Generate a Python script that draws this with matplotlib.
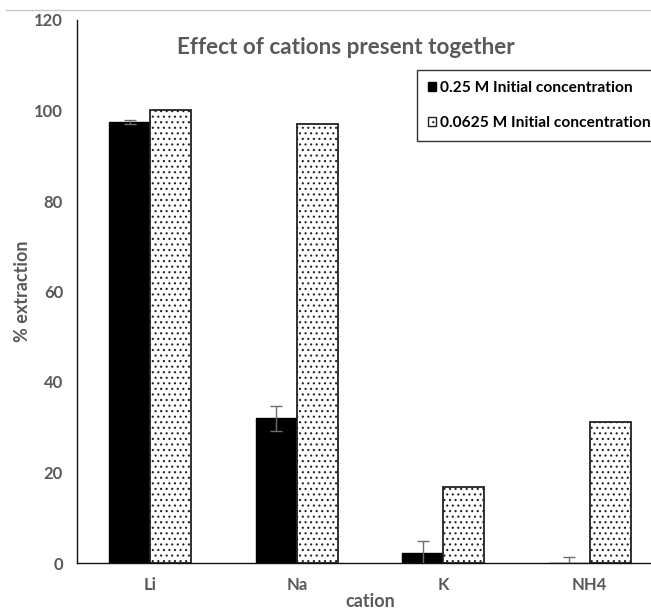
import matplotlib.pyplot as plt
import numpy as np
from matplotlib.lines import Line2D

plt.rcParams['font.family'] = ['Lato', 'DejaVu Sans']
plt.rcParams['hatch.linewidth'] = 0.8

# data
cations = ["Li", "Na", "K", "NH4"]
conc_025 = [97.5, 32.0, 2.1, 0.0]
conc_025_err = [0.4, 2.8, 2.8, 1.4]
conc_00625 = [100.0, 97.0, 16.9, 31.2]
labels = ["0.25 M Initial concentration", "0.0625 M Initial concentration"]

GREY = "#595959"

fig = plt.figure(figsize=(6.51, 6.09), dpi=100)
ax = fig.add_axes([77 / 651, 46 / 609, 586 / 651, 543 / 609])

x = np.arange(len(cations))
w = 0.28

ax.bar(x - w / 2, conc_025, w, color="black", edgecolor="black", linewidth=1.0, zorder=2)
ax.errorbar(x - w / 2, conc_025, yerr=conc_025_err, fmt="none", ecolor="#6e6e6e",
            elinewidth=1.0, capsize=4, capthick=1.0, zorder=3)
ax.bar(x + w / 2, conc_00625, w, color="white", edgecolor="#222222", hatch="...",
       linewidth=1.3, zorder=2)

ax.set_xlim(-0.5, 3.5)
ax.set_ylim(0, 120)
ax.set_yticks(np.arange(0, 121, 20))
ax.set_xticks(x)
ax.set_xticklabels(cations)
ax.tick_params(axis="both", length=0, labelsize=12, colors=GREY, pad=10)
for lab in ax.get_xticklabels() + ax.get_yticklabels():
    lab.set_fontweight("bold")

for s in ["top", "right"]:
    ax.spines[s].set_visible(False)
ax.spines["left"].set_color("#111111")
ax.spines["bottom"].set_color("#111111")
ax.spines["left"].set_linewidth(1.0)
ax.spines["bottom"].set_linewidth(1.0)

ax.set_ylabel("% extraction", fontsize=13, fontweight="bold", color=GREY)
ax.yaxis.set_label_coords(-(77 - 31) / 586, 0.5)
ax.set_xlabel("cation", fontsize=13, fontweight="bold", color=GREY)
ax.xaxis.set_label_coords((370 - 77) / 586, -0.055)

fig.text(346 / 651, 1 - 47 / 609, "Effect of cations present together", ha="center", va="center",
         fontsize=16.2, fontweight="bold", color=GREY)

legend_elements = [
    plt.Rectangle((0, 0), 1, 1, facecolor="black", edgecolor="black"),
    plt.Rectangle((0, 0), 1, 1, facecolor="white", edgecolor="#222222", hatch="..."),
]
leg = ax.legend(legend_elements, labels, loc="upper left", bbox_to_anchor=((417 - 77) / 586, (563 - 70) / 543),
                frameon=True, fancybox=False, edgecolor="black", handlelength=0.55, handleheight=0.55,
                handletextpad=0.25, labelspacing=1.35, borderpad=0.7, borderaxespad=0,
                prop={"weight": "bold", "size": 11.2})
leg.get_frame().set_linewidth(1.0)

# thin grey chart border line at top
fig.add_artist(Line2D([6 / 651, 1], [1 - 10 / 609, 1 - 10 / 609], color="#c8c8c8", linewidth=1.0))

fig.savefig("out.png", dpi=100)
